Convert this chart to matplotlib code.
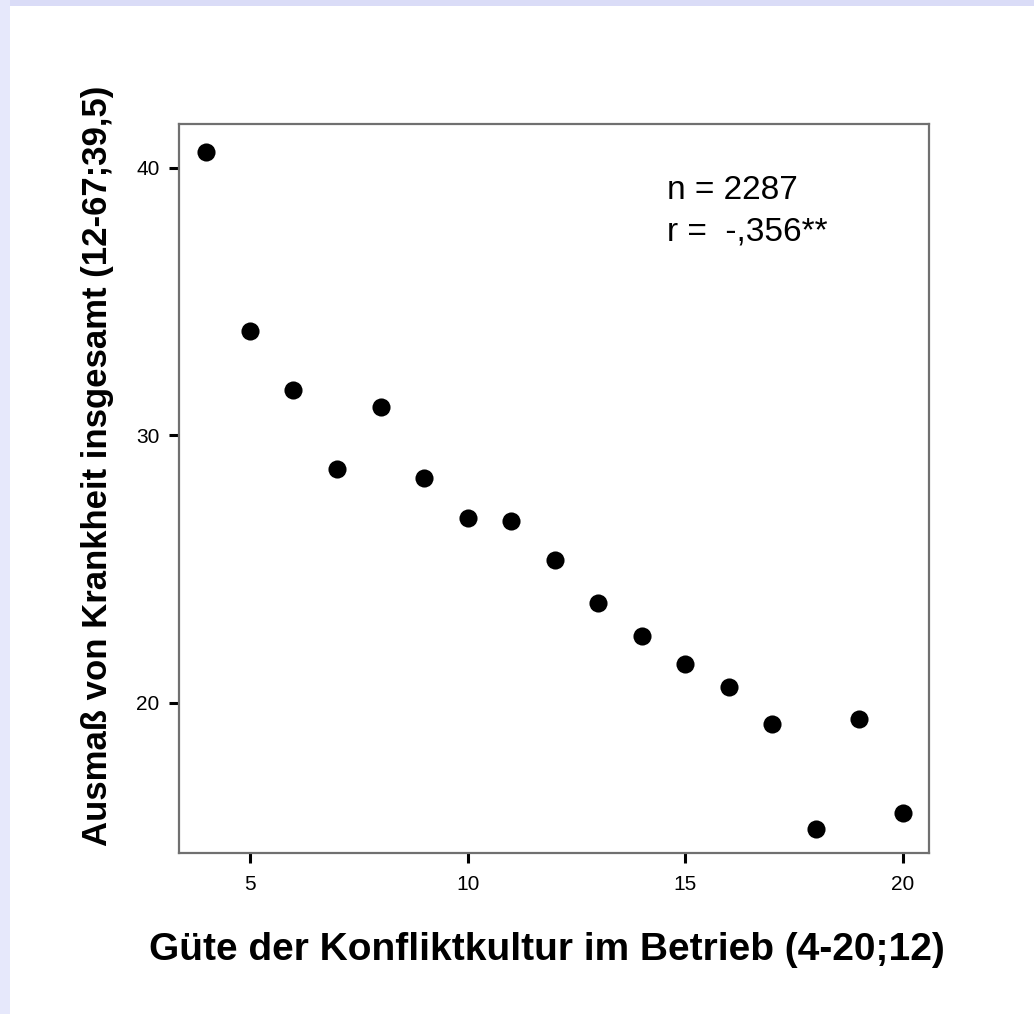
import matplotlib
matplotlib.use("Agg")
import matplotlib.pyplot as plt
from matplotlib.patches import Rectangle

x_vals = [4, 5, 6, 7, 8, 9, 10, 11, 12, 13, 14, 15, 16, 17, 18, 19, 20]
y_vals = [40.6, 33.9, 31.7, 28.75, 31.05, 28.4, 26.9, 26.8, 25.35, 23.75, 22.5, 21.45, 20.6, 19.2, 15.3, 19.4, 15.9]
x_ticks = [5, 10, 15, 20]
y_ticks = [20, 30, 40]
x_label = "Güte der Konfliktkultur im Betrieb (4-20;12)"
y_label = "Ausmaß von Krankheit insgesamt (12-67;39,5)"
annot_n = "n = 2287"
annot_r = "r =  -,356**"

W, H = 1034, 1014
fig = plt.figure(figsize=(W / 100, H / 100), dpi=100)
fig.patch.set_facecolor('white')
fig.patches.append(Rectangle((0, 1 - 6 / H), 1, 6 / H, transform=fig.transFigure,
                             facecolor='#dadcf7', edgecolor='none', zorder=0))
fig.patches.append(Rectangle((0, 0), 10 / W, 1, transform=fig.transFigure,
                             facecolor='#e6e8fb', edgecolor='none', zorder=0))

ax = fig.add_axes([179 / W, 1 - 853 / H, 750 / W, 729 / H])
ax.scatter(x_vals, y_vals, s=170, color='black', zorder=3, linewidths=0)
ax.set_xlim(3.37, 20.6)
ax.set_ylim(14.39, 41.64)
ax.set_xticks(x_ticks)
ax.set_yticks(y_ticks)
ax.set_xticklabels([str(t) for t in x_ticks], fontfamily='Liberation Sans', fontsize=15)
ax.set_yticklabels([str(t) for t in y_ticks], fontfamily='Liberation Sans', fontsize=15)
ax.tick_params(axis='x', direction='out', length=7, width=2.2, color='black', pad=9)
ax.tick_params(axis='y', direction='out', length=7, width=2.2, color='black', pad=7)
for sp in ax.spines.values():
    sp.set_color('#707070')
    sp.set_linewidth(1.6)

fig.text(547 / W, 1 - 950 / H, x_label, ha='center', va='center',
         fontsize=28, fontweight='bold', fontfamily='Liberation Sans')
fig.text(98 / W, 1 - 466 / H, y_label, ha='center', va='center', rotation=90,
         fontsize=25, fontweight='bold', fontfamily='Liberation Sans')

fig.text(667 / W, 1 - 190 / H, annot_n, ha='left', va='center',
         fontsize=24, fontfamily='Liberation Sans')
fig.text(667 / W, 1 - 232 / H, annot_r, ha='left', va='center',
         fontsize=24, fontfamily='Liberation Sans')

fig.savefig('out.png', dpi=100, facecolor='white')
